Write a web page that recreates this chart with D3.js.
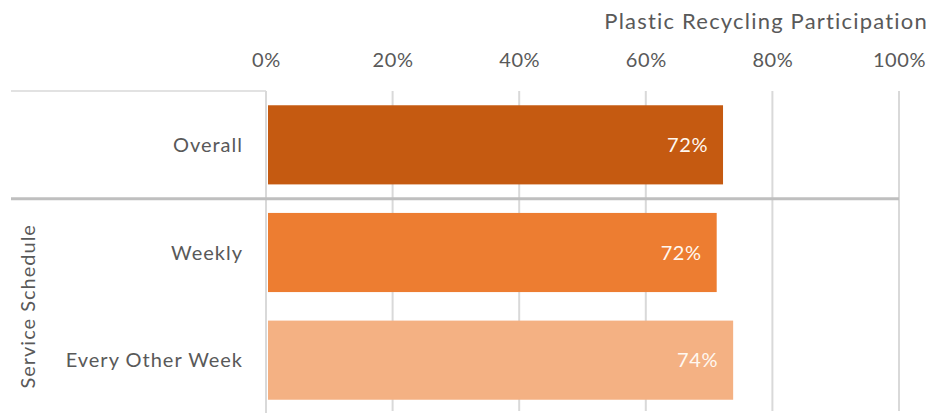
<!DOCTYPE html>
<html><head><meta charset="utf-8">
<script src="https://cdn.jsdelivr.net/npm/d3@7"></script>
<style>body{margin:0;background:#fff}svg{display:block}text{font-family:Lato,"Open Sans",sans-serif}</style>
</head><body><svg id="c" width="934" height="413"></svg>
<script>
const categories = ["Overall", "Weekly", "Every Other Week"];
const values = [72.2, 71.2, 73.8];
const valueLabels = ["72%", "72%", "74%"];
const barColors = ["#C55A11", "#ED7D31", "#F4B183"];
const tickValues = [0, 20, 40, 60, 80, 100];
const chartTitle = "Plastic Recycling Participation";
const groupLabel = "Service Schedule";

const svg = d3.select("#c");
const x = d3.scaleLinear().domain([0, 100]).range([266, 899]);
const y = d3.scaleBand().domain(categories).range([91, 414]).paddingInner(0.265).paddingOuter(0.1325);
const grey = "#595959";

// gridlines
svg.append("g").selectAll("line").data(tickValues.slice(1)).join("line")
  .attr("x1", d => x(d)).attr("x2", d => x(d)).attr("y1", 91).attr("y2", 411)
  .attr("stroke", "#d9d9d9").attr("stroke-width", 2);

// top axis labels
const axis = d3.axisTop(x).tickValues(tickValues).tickFormat(d => d + "%").tickSize(0).tickPadding(0);
const ag = svg.append("g").attr("transform", "translate(0,67)").call(axis);
ag.select(".domain").remove();
ag.selectAll("text").attr("fill", grey).style("font-size", "20px").style("letter-spacing", "0.6px").attr("dy", 0);

// title
svg.append("text").attr("x", 928).attr("y", 29).attr("text-anchor", "end")
  .attr("fill", grey).style("font-size", "22px").style("letter-spacing", "1.2px").text(chartTitle);

// category frame lines
svg.append("line").attr("x1", 11).attr("x2", x(0)).attr("y1", 91).attr("y2", 91)
  .attr("stroke", "#d9d9d9").attr("stroke-width", 1.5);
svg.append("line").attr("x1", x(0)).attr("x2", x(0)).attr("y1", 91).attr("y2", 413)
  .attr("stroke", "#d9d9d9").attr("stroke-width", 2);

// bars
svg.append("g").selectAll("rect").data(categories).join("rect")
  .attr("x", x(0) + 2).attr("y", d => y(d))
  .attr("width", (d, i) => x(values[i]) - x(0) - 2).attr("height", y.bandwidth())
  .attr("fill", (d, i) => barColors[i]);

// separator line
const sepY = (y("Overall") + y.bandwidth() + y("Weekly")) / 2;
svg.append("line").attr("x1", 11).attr("x2", x(100)).attr("y1", sepY).attr("y2", sepY)
  .attr("stroke", "#bfbfbf").attr("stroke-width", 3);

// value labels
svg.append("g").selectAll("text").data(categories).join("text")
  .attr("x", (d, i) => x(values[i]) - 15).attr("y", d => y(d) + y.bandwidth() / 2)
  .attr("dy", "0.35em").attr("text-anchor", "end").attr("fill", "#fff8f0")
  .style("font-size", "20px").style("letter-spacing", "0.6px").text((d, i) => valueLabels[i]);

// category labels
svg.append("g").selectAll("text").data(categories).join("text")
  .attr("x", 243).attr("y", d => y(d) + y.bandwidth() / 2)
  .attr("dy", "0.35em").attr("text-anchor", "end").attr("fill", grey)
  .style("font-size", "20px").style("letter-spacing", "1px").text(d => d);

// group label
const gy = (y("Weekly") + y("Every Other Week") + y.bandwidth()) / 2;
svg.append("text").attr("transform", `translate(35,${gy}) rotate(-90)`)
  .attr("text-anchor", "middle").attr("fill", grey).style("font-size", "20px")
  .style("letter-spacing", "1px").text(groupLabel);
</script></body></html>
